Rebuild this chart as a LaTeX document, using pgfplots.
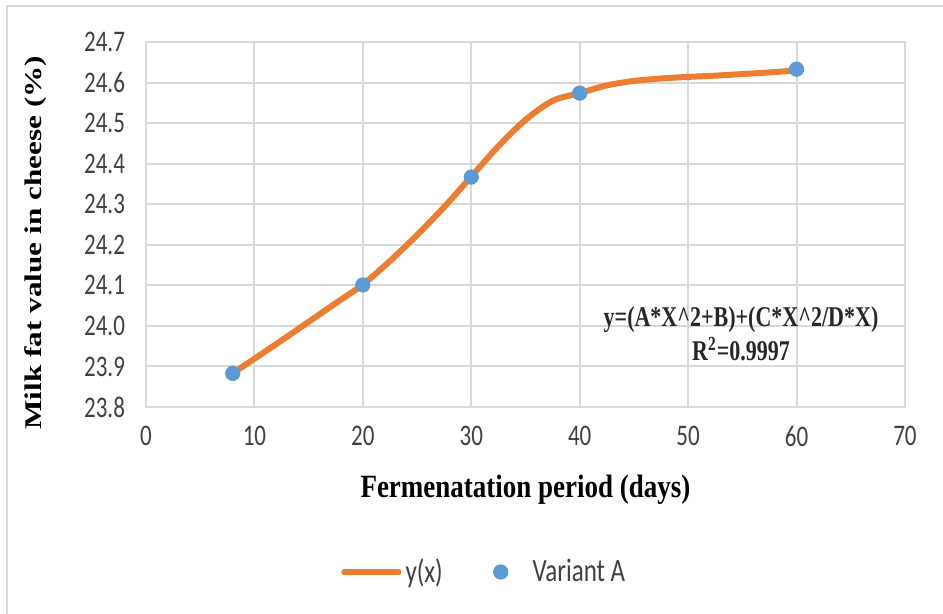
\documentclass[border=0pt]{standalone}
\usepackage{fontspec}
\setmainfont{Carlito}
\newfontfamily\timesfont{Liberation Serif}
\usepackage{graphicx}
\usepackage{pgfplots}
\pgfplotsset{compat=1.18}

\definecolor{xlorange}{HTML}{ED7D31}
\definecolor{xlblue}{HTML}{5B9BD5}
\definecolor{xlgrid}{HTML}{D9D9D9}
\definecolor{xltext}{HTML}{404040}

\begin{document}
\begin{tikzpicture}
\useasboundingbox (0,0) rectangle (471.5pt,-307pt);
% outer chart frame (only left and top edges are inside the picture)
\draw[xlgrid, line width=1pt] (3.5pt,-307pt) -- (3.5pt,-3pt) -- (471.5pt,-3pt);

\begin{axis}[
    at={(73pt,-203.5pt)}, anchor=south west,
    scale only axis,
    width=379.5pt, height=182.5pt,
    xmin=0, xmax=70, ymin=23.8, ymax=24.7,
    xtick={0,10,...,70},
    ytick={23.8,23.9,...,24.71},
    grid=major,
    grid style={xlgrid, line width=1pt},
    axis line style={xlgrid, line width=1pt},
    major tick length=0pt,
    tick label style={font=\fontsize{11.5}{12}\selectfont, text=xltext, yscale=1.3},
    /pgf/number format/assume math mode=true,
    yticklabel style={/pgf/number format/fixed, /pgf/number format/zerofill,
        /pgf/number format/precision=1, xshift=-7pt},
    xticklabel style={yshift=-4pt},
    xlabel={\scalebox{1}[1.2]{\timesfont\bfseries Fermenatation period (days)}},
    ylabel={\scalebox{1.3}[1]{\timesfont\bfseries Milk fat value in cheese (\%)}},
    xlabel style={at={(axis description cs:0.5,-0.227)}, anchor=center, font=\fontsize{13.5}{15}\selectfont},
    ylabel style={at={(axis description cs:-0.146,0.45)}, anchor=center, font=\fontsize{12}{14}\selectfont},
    legend style={at={(axis description cs:0.447,-0.452)}, anchor=center, draw=none,
        font=\fontsize{12.5}{13}\selectfont, text=xltext, legend columns=2,
        /tikz/every even column/.append style={column sep=13pt}},
    legend cell align=left,
    clip=false,
]
\addplot[xlorange, line width=3pt, smooth, tension=0.5,
    legend image code/.code={\draw[xlorange, line width=2.6pt, line cap=round] (0pt,0pt) -- (27.5pt,0pt);}]
    coordinates {
    (8,23.883) (10,23.919) (12.5,23.964) (15,24.010) (17.5,24.056) (20,24.102)
    (22.5,24.160) (25,24.224) (27.5,24.293) (30,24.368) (32.5,24.443)
    (35,24.508) (37.5,24.555) (40,24.574) (42.5,24.593) (45,24.604)
    (47.5,24.610) (50,24.614) (52.5,24.617) (55,24.621) (57.5,24.625) (60,24.630)
};
\addlegendentry{\scalebox{1}[1.3]{y(x)}}
\addplot[only marks, mark=*, mark size=3.6pt, color=xlblue, mark options={fill=xlblue, draw=xlblue},
    legend image code/.code={\draw[xlblue, mark=*, mark size=3.6pt, mark options={fill=xlblue}, only marks] plot coordinates {(13.75pt,0pt)}; \path (0pt,0pt) (27.5pt,0pt);}]
    coordinates {
    (8,23.883) (20,24.101) (30,24.367) (40,24.574) (60,24.633)
};
\addlegendentry{\scalebox{1}[1.3]{Variant A}}

\node[align=center, font=\timesfont\bfseries\fontsize{11}{13}\selectfont, text=black!85]
    at (axis description cs:0.784,0.2)
    {\scalebox{1}[1.3]{y=(A*X\^{}2+B)+(C*X\^{}2/D*X)}\\[1pt]\scalebox{1}[1.3]{R\textsuperscript{2}=0.9997}};
\end{axis}
\end{tikzpicture}
\end{document}
